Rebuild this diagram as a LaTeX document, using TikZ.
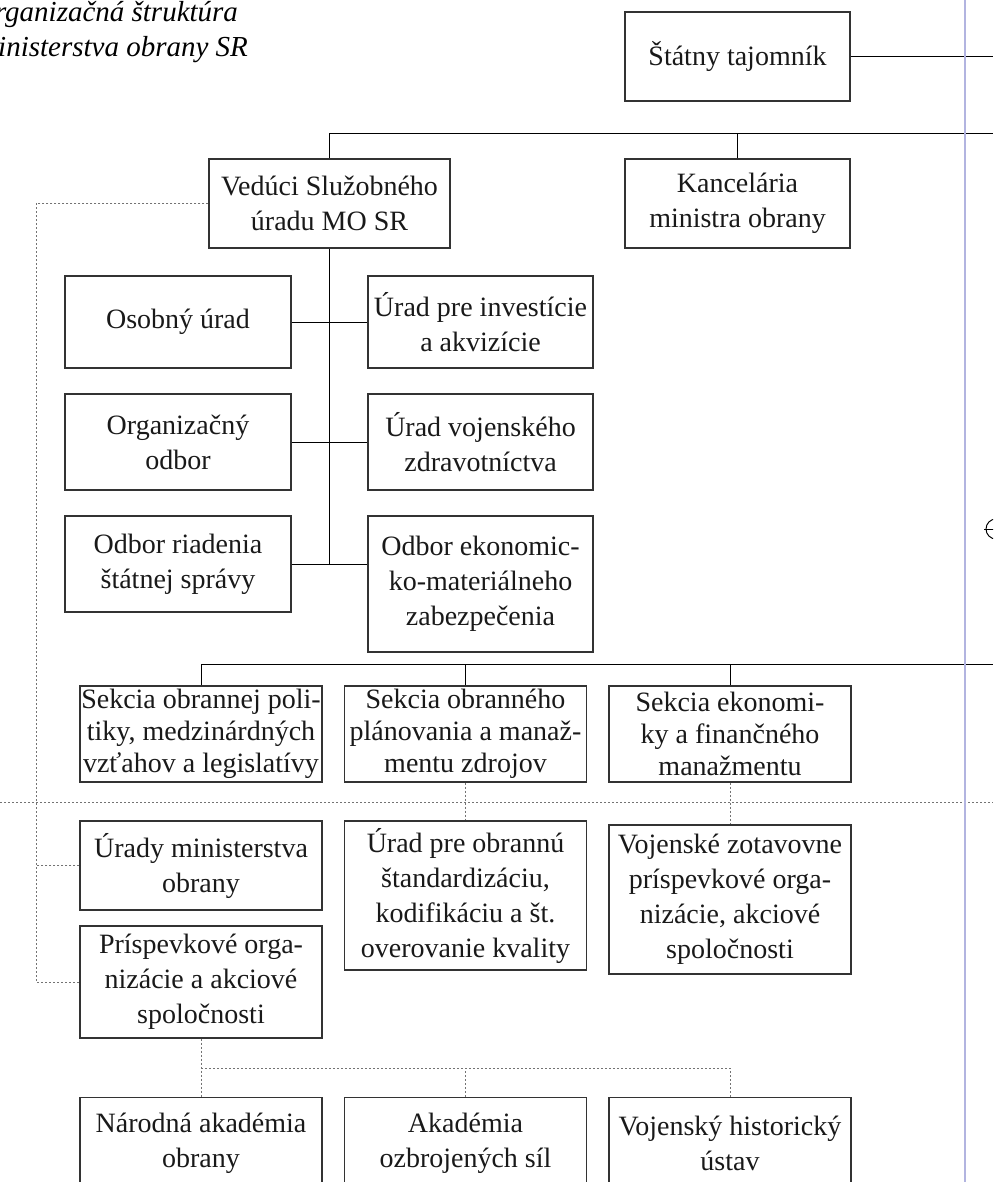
\documentclass[tikz,border=0pt]{standalone}
\usepackage{fontspec}
\setmainfont{Liberation Serif}
\usepackage{tikz}

\definecolor{margin}{RGB}{178,180,224}

\begin{document}
\begin{tikzpicture}[x=0.5pt, y=-0.5pt,
  org box/.style={draw=black!80, line width=0.65pt, align=center, inner sep=0pt,
    text=black!90, font=\fontsize{14}{17.5}\selectfont},
  col box/.style={org box, minimum width=113pt},
  grid box/.style={org box, minimum width=121pt},
  tight/.style={font=\fontsize{14}{16}\selectfont},
  link/.style={line width=0.5pt},
  dotlink/.style={black!55, line width=0.5pt, dash pattern=on 1pt off 1pt}]
\clip (0,0) rectangle (993,1182);

% title (cut by the page edge)
\node [anchor=base west, font=\fontsize{14.5}{17.5}\selectfont\itshape] (title-1) at (-33,22) {Organizačná štruktúra};
\node [anchor=base west, font=\fontsize{14.5}{17.5}\selectfont\itshape] (title-2) at (-33,57) {Ministerstva obrany SR};

\node [org box, minimum width=112.5pt, minimum height=44.5pt] (stat) at (737.5,56.5) {Štátny tajomník};
\node [org box, minimum width=120.5pt, minimum height=44.5pt] (ved) at (329.5,203.5) {Vedúci Služobného\\úradu MO SR};
\node [org box, minimum width=112.5pt, minimum height=44.5pt] (kanc) at (737.5,203.5) {Kancelária\\ministra obrany};

\node [col box, minimum height=46pt] (osob) at (178,322) {Osobný úrad};
\node [col box, minimum height=48pt] (org) at (178,442) {Organizačný\\odbor};
\node [col box, minimum height=48pt] (riad) at (178,564) {Odbor riadenia\\štátnej správy};
\node [col box, minimum width=112.5pt, minimum height=46pt] (inv) at (480.5,322) {Úrad pre investície\\a akvizície};
\node [col box, minimum width=112.5pt, minimum height=48pt] (zdrav) at (480.5,442) {Úrad vojenského\\zdravotníctva};
\node [col box, minimum width=112.5pt, minimum height=68pt] (ekon) at (480.5,584) {Odbor ekonomic-\\ko-materiálneho\\zabezpečenia};

\foreach \m/\t [count=\i] in {sek-1/{Sekcia obrannej poli-\\tiky, medzinárdných\\vzťahov a legislatívy},
    sek-2/{Sekcia obranného\\plánovania a manaž-\\mentu zdrojov},
    sek-3/{Sekcia ekonomi-\\ky a finančného\\manažmentu}}
  \node [grid box, tight, minimum height=48pt] (\m) at ({201+(\i-1)*264.5},734) {\t};

\node [grid box, minimum height=44.5pt] (urady) at (201,865.5) {Úrady ministerstva\\obrany};
\node [grid box, minimum height=56pt] (prisp) at (201,982) {Príspevkové orga-\\nizácie a akciové\\spoločnosti};
\node [grid box, minimum height=74.5pt] (stand) at (465.5,895.5) {Úrad pre obrannú\\štandardizáciu,\\kodifikáciu a št.\\overovanie kvality};
\node [grid box, minimum height=74.5pt] (zot) at (730,899.5) {Vojenské zotavovne\\príspevkové orga-\\nizácie, akciové\\spoločnosti};

\foreach \m/\t [count=\i] in {nao/{Národná akadémia\\obrany}, aos/{Akadémia\\ozbrojených síl}, vhu/{Vojenský historický\\ústav}}
  \node [grid box, minimum height=45.5pt] (\m) at ({201+(\i-1)*264.5},1143) {\t};

\coordinate (edge-1) at (993,56.5);
\coordinate (bar-1) at (993,134);
\coordinate (bar-2) at (993,664);
\coordinate (bar-3) at (730,1068);
\coordinate (left) at (36,0);

\draw [link] (stat) -- (edge-1);
\draw [link] (ved.north) |- (bar-1);
\draw [link] (kanc.north) -- (kanc.north |- bar-1);
\draw [link] (ved.south) -- (ved.south |- riad.east);
\draw [link] (osob) -- (inv);
\draw [link] (org) -- (zdrav);
\draw [link] (riad.east) -- (riad.east -| ekon.west);

\draw [link] (sek-1.north) |- (bar-2);
\foreach \j in {2,3}
  \draw [link] (sek-\j.north) -- (sek-\j.north |- bar-2);

\draw [dotlink] (0,802) -- (993,802);
\draw [dotlink] (sek-2) -- (stand);
\draw [dotlink] (sek-3) -- (zot);
\draw [dotlink] (ved.west) -- (ved.west -| left) |- (prisp.west);
\draw [dotlink] (urady.west) -- (urady.west -| left);

\draw [dotlink] (prisp) -- (nao);
\draw [dotlink] (nao.north |- bar-3) -- (vhu.north |- bar-3) -- (vhu.north);
\draw [dotlink] (aos.north) -- (aos.north |- bar-3);

% page margin and mark
\draw [margin, line width=0.6pt] (965,0) -- (965,1182);
\draw [line width=0.5pt] (996,529) circle (10);
\draw [line width=0.5pt] (984,529) -- (1000,529);
\end{tikzpicture}
\end{document}
